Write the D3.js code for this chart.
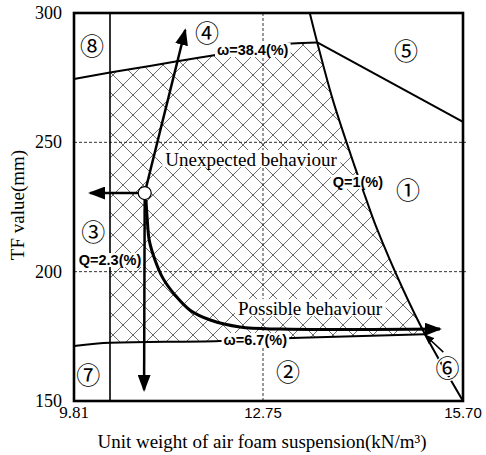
<!DOCTYPE html>
<html><head><meta charset="utf-8">
<script src="https://cdn.jsdelivr.net/npm/d3@7"></script>
<style>body{margin:0;background:#fff}</style>
</head><body><svg id="c" width="486" height="455"></svg>
<script>
// ---- data ----
const xTicks = [9.81, 12.75, 15.70];
const xTickLabels = ["9.81", "12.75", "15.70"];
const yTicks = [150, 200, 250, 300];
const gridX = [12.75];
const gridY = [200, 250];
const q23X = 10.37;
const omega384 = [[9.81,274.5],[10.37,277.0],[10.99,279.5],[11.77,282.8],[12.55,285.9],[13.18,288.2],[13.55,288.6]];
const q1 = [[13.44,300],[13.55,288.6],[13.78,266.4],[14.11,240.1],[14.26,228.9],[14.42,217.3],[14.82,192.9],[15.14,175.8],[15.70,150]];
const zone5 = [[13.55,288.6],[15.70,257.9]];
const omega67 = [[9.81,171.3],[10.37,172.5],[12.08,173.2],[13.30,174.5],[15.14,175.8]];
const statePoint = [10.91, 230.4];
const arrowTips = [[11.54,293.4],[10.06,230.4],[10.90,154.3]];
const behaviourPath = [[10.93,227.7],[10.95,220.0],[10.98,212.2],[11.07,204.5],[11.19,197.6],[11.38,191.0],[11.61,185.2],[11.93,181.3],[12.39,178.6],[13.00,177.8],[15.36,177.8]];
const regionLabels = ["①","②","③","④","⑤","⑥","⑦","⑧"];
const regionPos = [[14.89,232.0],[13.12,161.6],[10.11,216.1],[11.88,293.0],[14.86,285.7],[15.47,163.5],[10.03,160.8],[10.09,288.0]];
const lineLabels = ["ω=38.4(%)","Q=1(%)","Q=2.3(%)","ω=6.7(%)"];
const lineLabelPos = [[12.59,285.7],[14.15,234.7],[10.37,204.5],[12.63,173.6]];
const behaviourLabels = ["Unexpected behaviour","Possible behaviour"];
const behaviourLabelPos = [[11.23,240.8],[12.36,183.2]];
const arrow6 = [[15.41,168.9],[15.14,175.5]];

// ---- scales ----
const x = d3.scaleLinear().domain([9.81,12.75,15.70]).range([74,263,463]);
const y = d3.scaleLinear().domain([150,300]).range([401,13]);
const svg = d3.select("#c");
const line = d3.line().x(d=>x(d[0])).y(d=>y(d[1]));
const smooth = d3.line().x(d=>x(d[0])).y(d=>y(d[1])).curve(d3.curveMonotoneX);
const catmull = d3.line().x(d=>x(d[0])).y(d=>y(d[1])).curve(d3.curveCatmullRom);

const defs = svg.append("defs");
const pat = defs.append("pattern").attr("id","hatch").attr("patternUnits","userSpaceOnUse")
  .attr("width",20).attr("height",20).attr("x",3).attr("y",5);
pat.append("path").attr("d","M0,0L20,20M20,0L0,20")
  .attr("stroke","#3a3a3a").attr("stroke-width",0.75).attr("fill","none");
defs.append("marker").attr("id","ah").attr("markerUnits","userSpaceOnUse")
  .attr("viewBox","0 0 17 13").attr("refX",15).attr("refY",6.5)
  .attr("markerWidth",17).attr("markerHeight",13).attr("orient","auto")
  .append("path").attr("d","M0,0L17,6.5L0,13Z").attr("fill","#000");
defs.append("marker").attr("id","ahs").attr("markerUnits","userSpaceOnUse")
  .attr("viewBox","0 0 10 8").attr("refX",9).attr("refY",4)
  .attr("markerWidth",10).attr("markerHeight",8).attr("orient","auto")
  .append("path").attr("d","M0,0L10,4L0,8Z").attr("fill","#000");

// hatched feasible region
const topEdge = omega384.filter(d=>d[0]>=q23X);
const rightEdge = q1.filter(d=>d[1]<288.6 && d[1]>175.8);
const bottomEdge = omega67.filter(d=>d[0]>=q23X).slice().reverse();
const poly = [...topEdge, ...rightEdge, ...bottomEdge];
svg.append("path").attr("d", line(poly)+"Z").attr("fill","url(#hatch)").attr("stroke","none");

// grid
svg.selectAll(".gx").data(gridX).enter().append("line")
  .attr("x1",d=>x(d)).attr("x2",d=>x(d)).attr("y1",y(300)).attr("y2",y(150))
  .attr("stroke","#333").attr("stroke-width",1).attr("stroke-dasharray","3,2");
svg.selectAll(".gy").data(gridY).enter().append("line")
  .attr("y1",d=>y(d)).attr("y2",d=>y(d)).attr("x1",x(9.81)).attr("x2",x(15.70)+3)
  .attr("stroke","#333").attr("stroke-width",1).attr("stroke-dasharray","3,2");

// boundary lines
svg.append("line").attr("x1",x(q23X)).attr("x2",x(q23X)).attr("y1",y(300)).attr("y2",y(150))
  .attr("stroke","#000").attr("stroke-width",1.6);
svg.append("path").attr("d",smooth(omega384)).attr("fill","none").attr("stroke","#000").attr("stroke-width",2);
svg.append("path").attr("d",catmull(q1)).attr("fill","none").attr("stroke","#000").attr("stroke-width",2);
svg.append("path").attr("d",line(zone5)).attr("fill","none").attr("stroke","#000").attr("stroke-width",2);
svg.append("path").attr("d",smooth(omega67)).attr("fill","none").attr("stroke","#000").attr("stroke-width",2);

// line labels (white background)
lineLabels.forEach((t,i)=>{
  const g = svg.append("g");
  const tx = g.append("text").attr("x",x(lineLabelPos[i][0])).attr("y",y(lineLabelPos[i][1]))
    .attr("text-anchor","middle").attr("dominant-baseline","central")
    .attr("font-family","Liberation Sans, Arial, sans-serif").attr("font-weight","bold")
    .attr("font-size",14.5).text(t);
  const b = tx.node().getBBox();
  g.insert("rect","text").attr("x",b.x-2).attr("y",b.y+1).attr("width",b.width+4).attr("height",b.height-2).attr("fill","#fff");
});
behaviourLabels.forEach((t,i)=>{
  const g = svg.append("g");
  const tx = g.append("text").attr("x",x(behaviourLabelPos[i][0])).attr("y",y(behaviourLabelPos[i][1]))
    .attr("font-family","Liberation Serif, Times New Roman, serif").attr("font-size",19).text(t);
  const b = tx.node().getBBox();
  g.insert("rect","text").attr("x",b.x-3).attr("y",b.y+1).attr("width",b.width+6).attr("height",b.height-4).attr("fill","#fff");
});

// behaviour path & arrows
svg.append("path").attr("d",catmull(behaviourPath))
  .attr("fill","none").attr("stroke","#000").attr("stroke-width",3).attr("marker-end","url(#ah)");
arrowTips.forEach(t=>{
  svg.append("line").attr("x1",x(statePoint[0])).attr("y1",y(statePoint[1]))
    .attr("x2",x(t[0])).attr("y2",y(t[1])).attr("stroke","#000").attr("stroke-width",2.5).attr("marker-end","url(#ah)");
});
svg.append("circle").attr("cx",x(statePoint[0])).attr("cy",y(statePoint[1])).attr("r",6.5)
  .attr("fill","#fff").attr("stroke","#000").attr("stroke-width",1.2);

// region numbers
regionLabels.forEach((t,i)=>{
  svg.append("text").attr("x",x(regionPos[i][0])).attr("y",y(regionPos[i][1]))
    .attr("text-anchor","middle").attr("dominant-baseline","central")
    .attr("font-family","Noto Sans CJK JP, DejaVu Sans, sans-serif").attr("font-size",24)
    .attr("stroke","#fff").attr("stroke-width",3).attr("paint-order","stroke").text(t);
});
svg.append("path").attr("d",line(arrow6)).attr("stroke","#000").attr("stroke-width",1.5).attr("marker-end","url(#ahs)");

// frame
svg.append("rect").attr("x",x(9.81)).attr("y",y(300)).attr("width",x(15.70)-x(9.81)).attr("height",y(150)-y(300))
  .attr("fill","none").attr("stroke","#000").attr("stroke-width",2.6);

// ticks
svg.selectAll(".yt").data(yTicks).enter().append("text")
  .attr("x",62).attr("y",d=>y(d)).attr("text-anchor","end").attr("dominant-baseline","central")
  .attr("font-family","Liberation Serif, Times New Roman, serif").attr("font-size",18).text(d=>d);
svg.selectAll(".xt").data(xTicks).enter().append("text")
  .attr("x",d=>x(d)).attr("y",418).attr("text-anchor","middle")
  .attr("font-family",(d,i)=> i===0 ? "Liberation Serif, serif" : "Liberation Sans, Arial, sans-serif")
  .attr("font-size",(d,i)=> i===0 ? 17 : 15).text((d,i)=>xTickLabels[i]);

// axis titles
svg.append("text").attr("x",262).attr("y",448).attr("text-anchor","middle")
  .attr("font-family","Liberation Serif, Times New Roman, serif").attr("font-size",19)
  .text("Unit weight of air foam suspension(kN/m³)");
svg.append("text").attr("transform","translate(24,205) rotate(-90)").attr("text-anchor","middle")
  .attr("font-family","Liberation Serif, Times New Roman, serif").attr("font-size",19)
  .text("TF value(mm)");
</script></body></html>
